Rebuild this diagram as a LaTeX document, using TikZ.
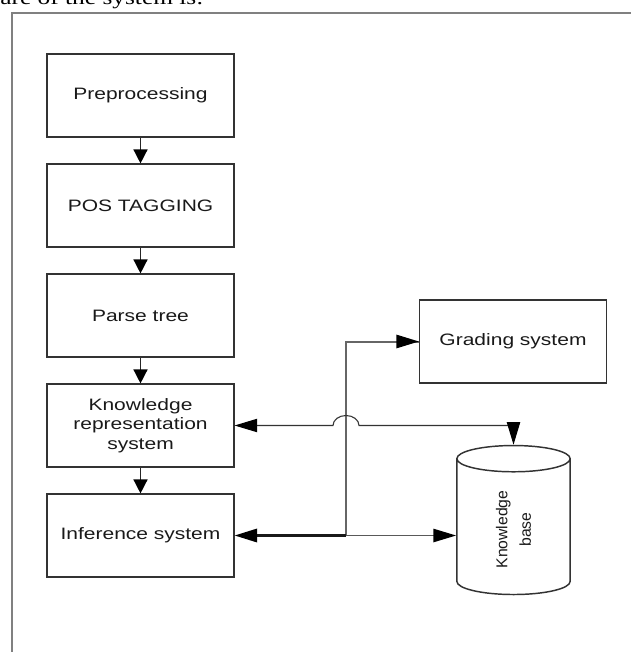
\documentclass[tikz,border=0pt]{standalone}
\usepackage{fontspec}
\setmainfont{Liberation Sans}
\newfontfamily\boxfont[FakeStretch=1.27]{Liberation Sans}
\newfontfamily\pagefont[FakeStretch=1.27]{Liberation Serif}
\usepackage{tikz}
\usetikzlibrary{arrows.meta,shapes.geometric}

\tikzset{
    stage/.style={draw=black!80, line width=1.1pt, minimum width=140pt, minimum height=62pt,
        align=center, text=black!90, font=\boxfont\fontsize{12.4}{14.6}\selectfont},
    steparrow/.style={-{Triangle[length=10.5pt,width=10.5pt,color=black]}, line width=1.1pt, draw=black!85},
    longtip/.tip={Triangle[length=17pt,width=10pt,color=black]},
    link/.style={line width=0.8pt, draw=black!80},
}

\begin{document}
\begin{tikzpicture}[x=0.75pt,y=-0.75pt]
\useasboundingbox (0,0) rectangle (631,652);
% frame of the page
\draw[black!50, line width=2.2pt] (12,652) -- (12,13) -- (631,13);
\node[anchor=base west, inner sep=0pt, text=black, font=\pagefont\fontsize{15}{18}\selectfont] (caption) at (0,5) {are of the system is:};

\foreach \i/\t in {0/Preprocessing, 1/POS TAGGING, 2/Parse tree,
        3/{Knowledge\\representation\\system}, 4/Inference system}
    \node[stage] (s\i) at (140.5,95.5+110*\i) {\t};
\foreach \i in {0,...,3}{
    \pgfmathtruncatemacro\j{\i+1}
    \draw[steparrow] (s\i) -- (s\j);
}

\node[stage] (grade) at (513,341.5) {Grading system};
\node[cylinder, draw=black!80, line width=1.1pt, rotate=90, minimum width=85pt, minimum height=111.75pt,
    aspect=0.6, align=center, text=black!90, font=\fontsize{11.8}{17.5}\selectfont] (kb) at (513.5,529.5) {Knowledge\\base};

\coordinate (jn) at (346,535.5);
\draw[link, black!60, line width=1.5pt] (jn) |- (grade.west);
\draw[link, black!60, line width=1.5pt, -longtip] (jn |- grade.west) -- (grade.west);
\draw[link, black!90, line width=1.9pt, -longtip] (jn) -- (s4.east);
\draw[link, black!65, line width=1pt, -longtip] (jn) -- (jn -| kb.north);
% hop over the vertical line
\draw[link, longtip-longtip] (kb.east) -- (kb.east |- s3.east) -- (359,425.5)
    arc[start angle=0, end angle=-180, x radius=13, y radius=10] -- (s3.east);
\end{tikzpicture}
\end{document}
